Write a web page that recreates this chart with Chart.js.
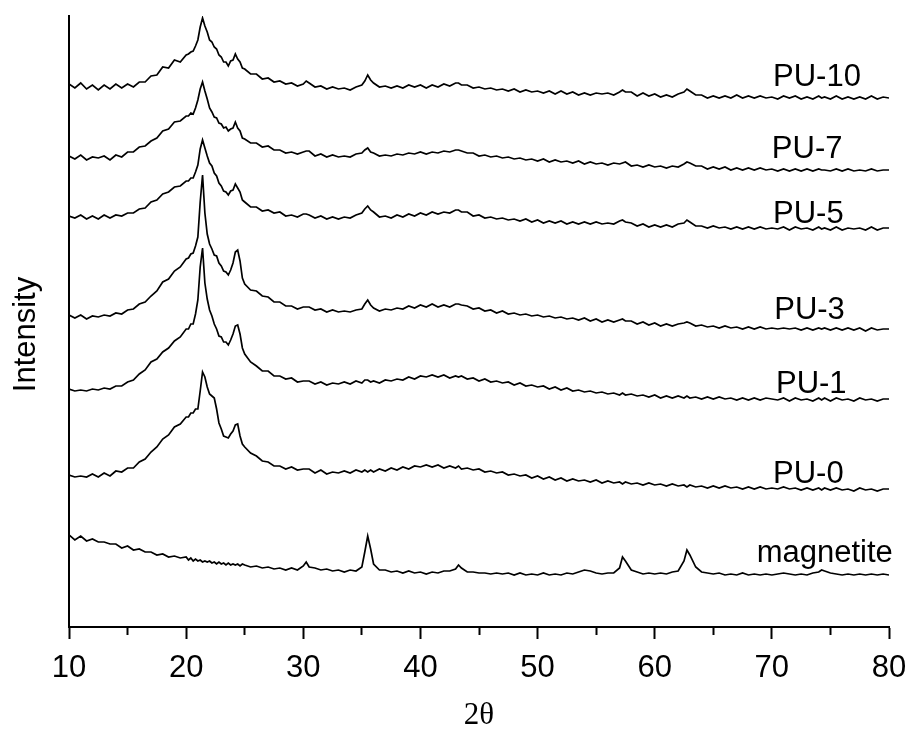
<!DOCTYPE html>
<html>
<head>
<meta charset="utf-8">
<script src="https://cdn.jsdelivr.net/npm/chart.js@4.4.1/dist/chart.umd.min.js"></script>
<style>
  html, body { margin: 0; padding: 0; background: #fff; }
  #wrap { width: 912px; height: 731px; }
</style>
</head>
<body>
<div id="wrap"><canvas id="xrd" width="912" height="731"></canvas></div>
<script>
// 2-theta positions shared by all patterns (denser around the main peaks)
const angle = [
  10, 10.5, 11, 11.5, 12, 12.5, 13, 13.5, 14, 14.5, 15, 15.5, 16, 16.5, 17, 17.5, 18, 18.5, 19, 19.5, 20,
  20.2, 20.4, 20.6, 20.8, 21, 21.2, 21.4, 21.6, 21.8, 22, 22.2, 22.4, 22.6, 22.8, 23, 23.2, 23.4, 23.6, 23.8, 24, 24.2, 24.4, 24.6, 24.8, 25,
  25.5, 26, 26.5, 27, 27.5, 28, 28.5, 29, 29.5, 30, 30.25, 30.5, 31, 31.5, 32, 32.5, 33, 33.5, 34, 34.5, 35,
  35.25, 35.5, 35.75, 36, 36.5, 37, 37.5, 38, 38.5, 39, 39.5, 40, 40.5, 41, 41.5, 42, 42.5, 43, 43.25, 43.5, 44, 44.5, 45,
  45.5, 46, 46.5, 47, 47.5, 48, 48.5, 49, 49.5, 50, 50.5, 51, 51.5, 52, 52.5, 53, 53.5, 54, 54.5, 55, 55.5, 56, 56.5, 57,
  57.25, 57.5, 58, 58.5, 59, 59.5, 60, 60.5, 61, 61.5, 62, 62.5, 62.75, 63, 63.5, 64, 64.5, 65, 65.5, 66, 66.5, 67, 67.5, 68, 68.5, 69, 69.5, 70,
  70.5, 71, 71.5, 72, 72.5, 73, 73.5, 74, 74.25, 74.5, 75, 75.5, 76, 76.5, 77, 77.5, 78, 78.5, 79, 79.5, 80
];

// intensities as plotted (stacked with offsets), arbitrary units
const pu10 = [
  543,539,544,538,542,537,542,538,543,539,543,540,545,545,551,552,560,559,567,565,572,
  573,575,576,581,587,600,609,601,595,587,585,580,578,572,570,565,565,561,566,567,573,568,565,559,558,
  553,553,548,549,545,546,543,544,541,543,546,544,540,541,538,540,538,539,537,540,542,
  546,552,547,544,540,541,539,541,539,542,540,542,539,542,540,543,541,544,544,542,542,539,540,
  538,539,537,538,536,538,535,537,535,536,534,536,533,536,533,535,532,534,532,534,533,534,532,535,
  537,535,535,531,534,531,533,530,532,530,533,535,538,536,532,532,529,531,529,531,529,532,529,531,529,531,529,530,
  528,531,529,531,528,530,528,531,529,530,528,531,528,530,528,530,528,531,528,530,529
];
const pu7 = [
  471,468,472,467,470,469,471,467,472,470,475,475,480,481,486,489,496,498,505,506,511,
  511,514,513,519,527,538,545,536,528,519,515,510,509,504,503,499,500,496,498,499,505,499,496,489,488,
  484,484,480,481,477,477,474,475,473,475,476,476,471,473,470,472,470,471,470,473,474,
  477,479,475,474,471,472,471,473,472,474,473,475,473,475,474,476,475,477,477,476,474,474,471,
  472,470,471,469,470,468,469,467,468,466,468,465,467,465,466,464,466,463,465,463,464,462,464,463,
  464,465,461,462,460,462,460,461,459,461,460,463,465,464,461,461,458,460,458,460,457,459,457,459,457,459,457,458,
  456,458,456,458,456,458,456,458,457,457,456,458,456,458,456,457,456,458,456,457,457
];
const pu5 = [
  411,409,412,408,411,408,412,409,412,411,414,414,418,419,425,427,433,435,440,441,446,
  446,449,449,455,462,478,487,479,471,464,461,454,451,444,441,436,435,432,436,437,443,439,435,427,425,
  420,420,416,417,414,415,411,412,410,413,413,412,409,411,408,410,408,410,409,412,414,
  418,421,417,415,410,411,409,412,410,413,411,414,412,415,413,415,414,417,417,415,415,411,412,
  409,410,408,409,407,408,406,408,405,407,404,406,404,406,403,405,403,405,403,405,403,404,403,406,
  407,405,404,401,403,400,402,400,402,400,403,404,407,405,401,401,399,401,399,400,398,400,398,400,398,400,398,399,
  398,400,397,400,398,399,397,400,398,399,397,400,397,399,398,399,397,400,397,399,399
];
const pu3 = [
  312,309,312,308,311,310,312,311,314,313,317,318,323,325,331,336,345,348,356,360,368,
  369,373,374,381,390,425,452,414,393,383,378,372,371,364,361,356,355,352,357,364,375,377,366,349,343,
  337,336,331,330,325,325,321,321,318,320,320,320,317,318,315,317,315,316,315,317,318,
  323,327,322,319,316,318,317,319,318,321,319,322,320,323,320,322,320,323,323,322,321,318,319,
  316,317,314,316,313,314,312,313,311,312,310,311,309,310,308,309,307,309,306,308,305,307,305,307,
  308,306,306,303,305,302,304,301,303,301,303,304,305,304,301,302,300,301,299,301,299,300,298,300,298,300,298,299,
  298,299,298,299,297,299,297,299,298,299,297,299,297,299,297,299,296,299,297,298,298
];
const pu1 = [
  238,236,237,236,238,237,239,238,241,241,245,247,253,257,265,268,275,279,286,290,298,
  298,303,303,313,327,360,379,344,328,317,311,303,298,291,290,285,285,282,287,293,301,302,293,279,273,
  265,261,256,256,251,251,248,249,245,246,246,246,243,245,242,244,243,245,243,246,244,
  247,247,245,246,244,247,246,248,247,250,248,251,250,252,250,252,249,251,250,251,248,249,246,
  248,245,246,244,245,242,244,241,242,240,241,238,240,237,239,236,237,235,236,234,235,233,234,232,
  234,232,233,231,232,230,232,229,231,229,231,229,231,229,230,228,230,228,230,228,229,227,229,227,229,227,229,228,
  227,229,226,229,227,228,226,229,227,229,226,229,227,228,226,229,227,228,226,228,228
];
const pu0 = [
  152,150,151,150,153,150,154,151,156,155,159,159,165,168,175,180,188,192,200,203,210,
  210,214,214,218,218,236,255,250,240,233,231,229,218,204,198,191,190,189,193,196,202,203,191,183,180,
  174,171,166,165,161,161,158,160,157,158,158,158,154,157,153,155,154,156,154,157,155,
  157,155,157,155,158,156,159,157,160,158,161,160,162,160,162,159,161,159,161,158,159,157,158,
  155,156,154,155,152,153,151,152,149,151,148,150,147,149,146,148,146,147,145,147,144,146,144,145,
  143,145,143,144,142,144,142,143,141,143,141,142,140,142,140,141,139,141,139,141,139,140,138,140,138,140,138,139,
  138,140,138,139,137,139,137,139,137,139,137,139,137,138,136,139,137,138,136,138,138
];
const magnetite = [
  92,87,91,86,88,85,85,83,83,79,81,77,78,75,75,72,73,70,71,69,70,
  67,69,66,68,66,67,65,66,65,66,64,65,63,65,63,64,62,64,62,63,62,63,61,63,62,
  60,61,59,60,58,59,57,59,57,61,65,60,59,57,58,56,57,55,57,56,60,
  75,91,78,63,57,57,55,56,54,56,54,55,53,55,54,56,56,58,62,59,55,55,54,
  54,53,54,53,54,52,54,52,53,52,54,52,53,52,54,53,55,57,56,54,53,54,54,59,
  70,66,57,55,53,54,53,54,53,55,56,66,77,72,60,55,54,53,54,52,53,52,54,52,53,52,53,52,
  53,54,53,52,53,52,54,55,57,56,54,53,52,53,52,53,52,53,52,53,52
];

const names = ["PU-10", "PU-7", "PU-5", "PU-3", "PU-1", "PU-0", "magnetite"];
// where each name sits (left edge in 2θ, baseline in intensity units)
const labelAngle = [70.1, 70.0, 70.1, 70.2, 70.35, 70.1, 68.7];
const labelLevel = [541, 469, 404, 308, 234, 144, 65];

const sans = '"Liberation Sans", Arial, sans-serif';
const serif = '"Liberation Serif", "Times New Roman", serif';

const traces = [pu10, pu7, pu5, pu3, pu1, pu0, magnetite];

const datasets = traces.map((vals, k) => ({
  label: names[k],
  data: angle.map((a, i) => ({ x: a, y: vals[i] })),
  borderColor: "#000",
  borderWidth: 1.7,
  pointRadius: 0,
  tension: 0,
  fill: false,
}));

const traceLabels = {
  id: "traceLabels",
  afterDatasetsDraw(chart) {
    const { ctx, scales } = chart;
    const x = scales.x;
    const y = scales.y;
    ctx.save();
    ctx.fillStyle = "#000";
    ctx.font = "31px " + sans;
    ctx.textAlign = "left";
    ctx.textBaseline = "alphabetic";
    for (let i = 0; i < names.length; i++) {
      ctx.fillText(names[i], x.getPixelForValue(labelAngle[i]), y.getPixelForValue(labelLevel[i]));
    }
    // y axis title, a little below the axis centre like the original
    ctx.translate(26, (y.top + y.bottom) / 2 + 13);
    ctx.rotate(-Math.PI / 2);
    ctx.textAlign = "center";
    ctx.textBaseline = "middle";
    ctx.fillText("Intensity", 0, 0);
    ctx.restore();
  },
};

new Chart(document.getElementById("xrd"), {
  type: "line",
  data: { datasets },
  options: {
    responsive: false,
    animation: false,
    devicePixelRatio: 1,
    layout: { padding: { top: 16, right: 23, left: 0, bottom: 0 } },
    plugins: {
      legend: { display: false },
      tooltip: { enabled: false },
    },
    scales: {
      x: {
        type: "linear",
        min: 10,
        max: 80,
        afterFit: (s) => {
          s.height = 104;
          // let the layout padding alone decide the plot width
          s.paddingLeft = 0;
          s.paddingRight = 0;
        },
        border: { display: true, color: "#000", width: 2 },
        grid: {
          display: true,
          drawOnChartArea: false,
          drawTicks: true,
          tickLength: 12,
          tickWidth: 2,
          tickColor: "#000",
          // short minor ticks at the odd fives
          tickBorderDash: (c) => (c.tick && c.tick.value % 10 !== 0 ? [7, 40] : []),
        },
        ticks: {
          stepSize: 5,
          autoSkip: false,
          maxRotation: 0,
          padding: 11,
          color: "#000",
          font: { size: 31, family: sans },
          callback: (v) => (v % 10 === 0 ? String(v) : ""),
        },
        title: {
          display: true,
          text: "2θ",
          color: "#000",
          font: { size: 31, family: serif, lineHeight: 1 },
          padding: 0,
        },
      },
      y: {
        type: "linear",
        min: 0,
        max: 611,
        afterFit: (s) => { s.width = 69; },
        border: { display: true, color: "#000", width: 2 },
        grid: { display: false },
        ticks: { display: false },
      },
    },
  },
  plugins: [traceLabels],
});
</script>
</body>
</html>
